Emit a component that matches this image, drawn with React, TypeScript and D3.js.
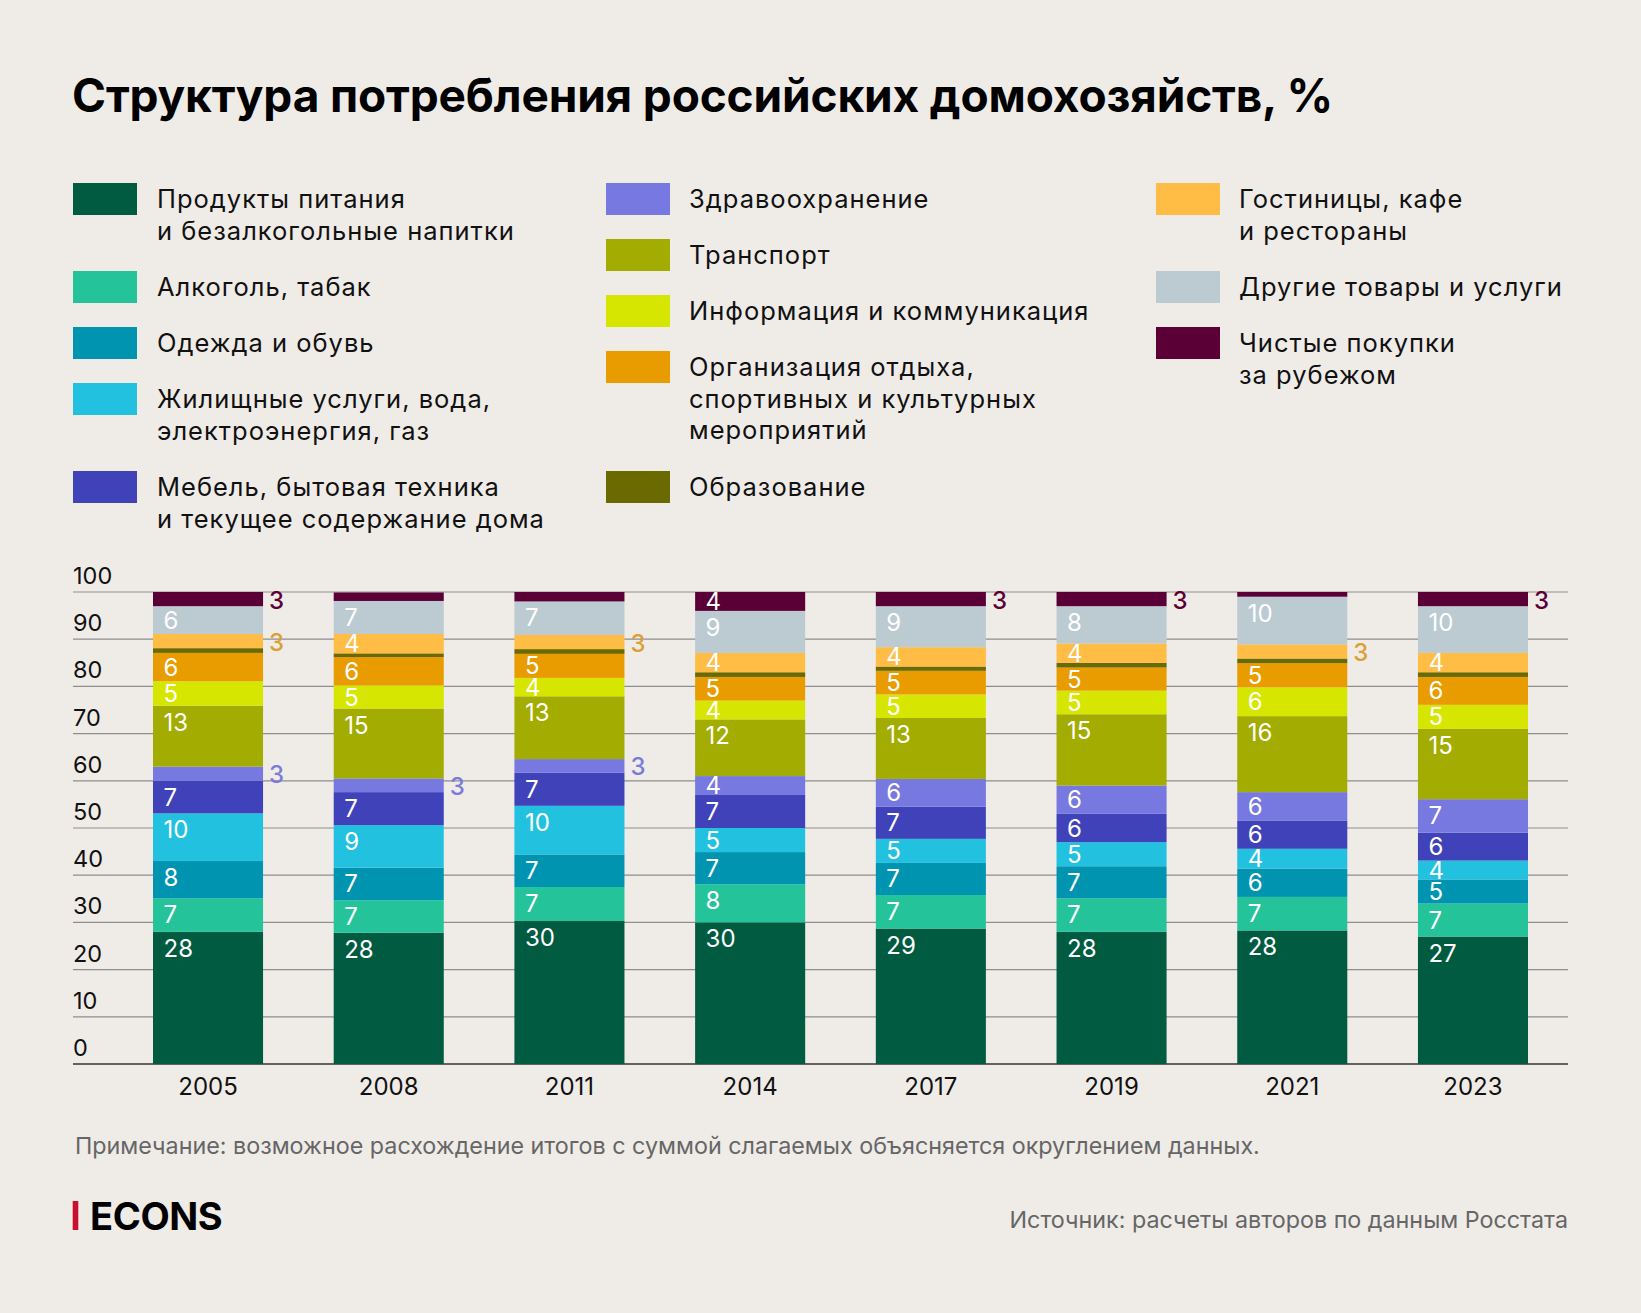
import React from 'react';
import * as d3 from 'd3';

// survey years
const years = ['2005', '2008', '2011', '2014', '2017', '2019', '2021', '2023'];

// shares of consumer spending, %
const food = [28.0, 27.8, 30.3, 30.0, 28.7, 28.0, 28.3, 27.0];
const alcohol = [7.1, 6.9, 7.2, 8.1, 7.1, 7.1, 7.1, 7.0];
const clothing = [7.9, 6.9, 6.9, 6.8, 6.8, 6.8, 6.0, 5.1];
const housing = [10.1, 9.0, 10.3, 5.1, 5.1, 5.1, 4.2, 4.0];
const furniture = [6.9, 7.0, 7.0, 7.0, 6.8, 6.0, 6.0, 5.9];
const health = [3.0, 2.9, 2.9, 4.0, 5.9, 6.0, 6.0, 7.1];
const transport = [12.9, 14.8, 13.3, 12.0, 12.9, 15.1, 16.1, 14.9];
const communication = [5.2, 4.9, 3.9, 4.0, 5.0, 5.0, 6.1, 5.1];
const recreation = [6.0, 6.0, 5.1, 5.0, 5.0, 4.9, 5.1, 5.9];
const education = [1.0, 0.8, 1.0, 1.0, 0.9, 1.0, 1.0, 1.0];
const hotels = [3.0, 4.1, 3.0, 4.1, 4.1, 4.1, 3.0, 4.1];
const other = [5.9, 7.0, 7.1, 8.9, 8.7, 7.9, 10.1, 9.9];
const abroad = [3.0, 1.8, 2.0, 4.0, 3.0, 3.0, 1.0, 3.0];

const yTicks = [0, 10, 20, 30, 40, 50, 60, 70, 80, 90, 100];

type Series = {
  key: string;
  lines: string[];
  color: string;
  outside: string;
  values: number[];
  col: number;
  showLabels: boolean;
};

const series: Series[] = [
  { key: 'food', lines: ['Продукты питания', 'и безалкогольные напитки'], color: '#005b41', outside: '#005b41', values: food, col: 0, showLabels: true },
  { key: 'alcohol', lines: ['Алкоголь, табак'], color: '#24c39a', outside: '#24c39a', values: alcohol, col: 0, showLabels: true },
  { key: 'clothing', lines: ['Одежда и обувь'], color: '#0094b0', outside: '#0094b0', values: clothing, col: 0, showLabels: true },
  { key: 'housing', lines: ['Жилищные услуги, вода,', 'электроэнергия, газ'], color: '#22c1e0', outside: '#22c1e0', values: housing, col: 0, showLabels: true },
  { key: 'furniture', lines: ['Мебель, бытовая техника', 'и текущее содержание дома'], color: '#3f42b9', outside: '#3f42b9', values: furniture, col: 0, showLabels: true },
  { key: 'health', lines: ['Здравоохранение'], color: '#7878e1', outside: '#7b7bd8', values: health, col: 1, showLabels: true },
  { key: 'transport', lines: ['Транспорт'], color: '#a3ac00', outside: '#a3ac00', values: transport, col: 1, showLabels: true },
  { key: 'communication', lines: ['Информация и коммуникация'], color: '#d7e600', outside: '#d7e600', values: communication, col: 1, showLabels: true },
  { key: 'recreation', lines: ['Организация отдыха,', 'спортивных и культурных', 'мероприятий'], color: '#e99c00', outside: '#e99c00', values: recreation, col: 1, showLabels: true },
  { key: 'education', lines: ['Образование'], color: '#6a6a00', outside: '#6a6a00', values: education, col: 1, showLabels: false },
  { key: 'hotels', lines: ['Гостиницы, кафе', 'и рестораны'], color: '#ffbd45', outside: '#dc9f35', values: hotels, col: 2, showLabels: true },
  { key: 'other', lines: ['Другие товары и услуги'], color: '#bccad2', outside: '#bccad2', values: other, col: 2, showLabels: true },
  { key: 'abroad', lines: ['Чистые покупки', 'за рубежом'], color: '#5b0036', outside: '#5b0036', values: abroad, col: 2, showLabels: true },
];

const W = 1641;
const H = 1313;
const FONT = "Inter, 'Noto Sans', sans-serif";

const legendCols = [
  { swatch: 73, text: 157 },
  { swatch: 606, text: 689 },
  { swatch: 1156, text: 1239 },
];

export default function App() {
  const x = d3.scaleBand<string>().domain(years).range([153, 1528]).paddingInner(0.391).paddingOuter(0);
  const y = d3.scaleLinear().domain([0, 100]).range([1064, 592]);

  const table = years.map((yr, i) => {
    const row: Record<string, number | string> = { year: yr };
    series.forEach((s) => (row[s.key] = s.values[i]));
    return row;
  });
  const stacked = d3.stack<Record<string, number | string>>().keys(series.map((s) => s.key))(table as any);

  // legend rows flow down each column; a row is 32px per text line plus a gap
  const legendItems: { s: Series; top: number }[] = [];
  const colTop = [183, 183, 183];
  series.forEach((s) => {
    legendItems.push({ s, top: colTop[s.col] });
    colTop[s.col] += s.lines.length * 32 + 24;
  });

  const gridLeft = 73;
  const gridRight = 1568;

  return (
    <>
      <style>{`body{margin:0;background:#efece8;}`}</style>
      <svg width={W} height={H} viewBox={`0 0 ${W} ${H}`} style={{ display: 'block', fontFamily: FONT }}>
        <rect x={0} y={0} width={W} height={H} fill="#efece8" />

        <text x={72} y={112} fontSize={46} fontWeight={700} fill="#000" letterSpacing={-0.15}>
          Структура потребления российских домохозяйств, %
        </text>

        {legendItems.map(({ s, top }) => (
          <g key={s.key}>
            <rect x={legendCols[s.col].swatch} y={top} width={64} height={32} fill={s.color} />
            {s.lines.map((ln, j) => (
              <text
                key={j}
                x={legendCols[s.col].text}
                y={top + 25 + j * 31.7}
                fontSize={25.5}
                letterSpacing={1}
                fill="#111"
              >
                {ln}
              </text>
            ))}
          </g>
        ))}

        {yTicks.map((t) => (
          <g key={t}>
            <line
              x1={gridLeft}
              x2={gridRight}
              y1={y(t)}
              y2={y(t)}
              stroke={t === 0 ? '#333' : '#8e8e8e'}
              strokeWidth={t === 0 ? 1.6 : 1.2}
            />
            <text x={gridLeft} y={y(t) - 8} fontSize={23.5} fill="#111">
              {t}
            </text>
          </g>
        ))}

        {stacked.map((layer, li) => {
          const s = series[li];
          return (
            <g key={s.key}>
              {layer.map((d, i) => {
                const yr = years[i];
                const top = y(d[1]);
                const bottom = y(d[0]);
                return (
                  <rect key={yr} x={x(yr)!} y={top} width={x.bandwidth()} height={bottom - top} fill={s.color} />
                );
              })}
            </g>
          );
        })}

        {stacked.map((layer, li) => {
          const s = series[li];
          if (!s.showLabels) return null;
          return (
            <g key={s.key + '-lbl'}>
              {layer.map((d, i) => {
                const r = Math.round(s.values[i]);
                const yr = years[i];
                const top = y(d[1]);
                const h = y(d[0]) - top;
                if (r >= 4) {
                  return (
                    <text key={yr} x={x(yr)! + 10.5} y={top + Math.min(25, h / 2 + 8.5)} fontSize={24} fill="#fff">
                      {r}
                    </text>
                  );
                }
                if (r === 3) {
                  // small slices get their value beside the bar, in the slice colour
                  return (
                    <text
                      key={yr}
                      x={x(yr)! + x.bandwidth() + 6}
                      y={top + h / 2 + 9.5}
                      fontSize={24}
                      fontWeight={500}
                      fill={s.outside}
                    >
                      {r}
                    </text>
                  );
                }
                return null;
              })}
            </g>
          );
        })}

        {years.map((yr) => (
          <text key={yr} x={x(yr)! + x.bandwidth() / 2} y={1095} fontSize={24} textAnchor="middle" fill="#111">
            {yr}
          </text>
        ))}

        <text x={75} y={1153.5} fontSize={23.3} fill="#666">
          Примечание: возможное расхождение итогов с суммой слагаемых объясняется округлением данных.
        </text>

        <rect x={72.7} y={1201} width={5.6} height={29} fill="#c8102e" />
        <text x={90} y={1229.5} fontSize={38} fontWeight={700} fill="#000" letterSpacing={-0.4}>
          ECONS
        </text>

        <text x={1568} y={1228} fontSize={23.3} textAnchor="end" fill="#666">
          Источник: расчеты авторов по данным Росстата
        </text>
      </svg>
    </>
  );
}
